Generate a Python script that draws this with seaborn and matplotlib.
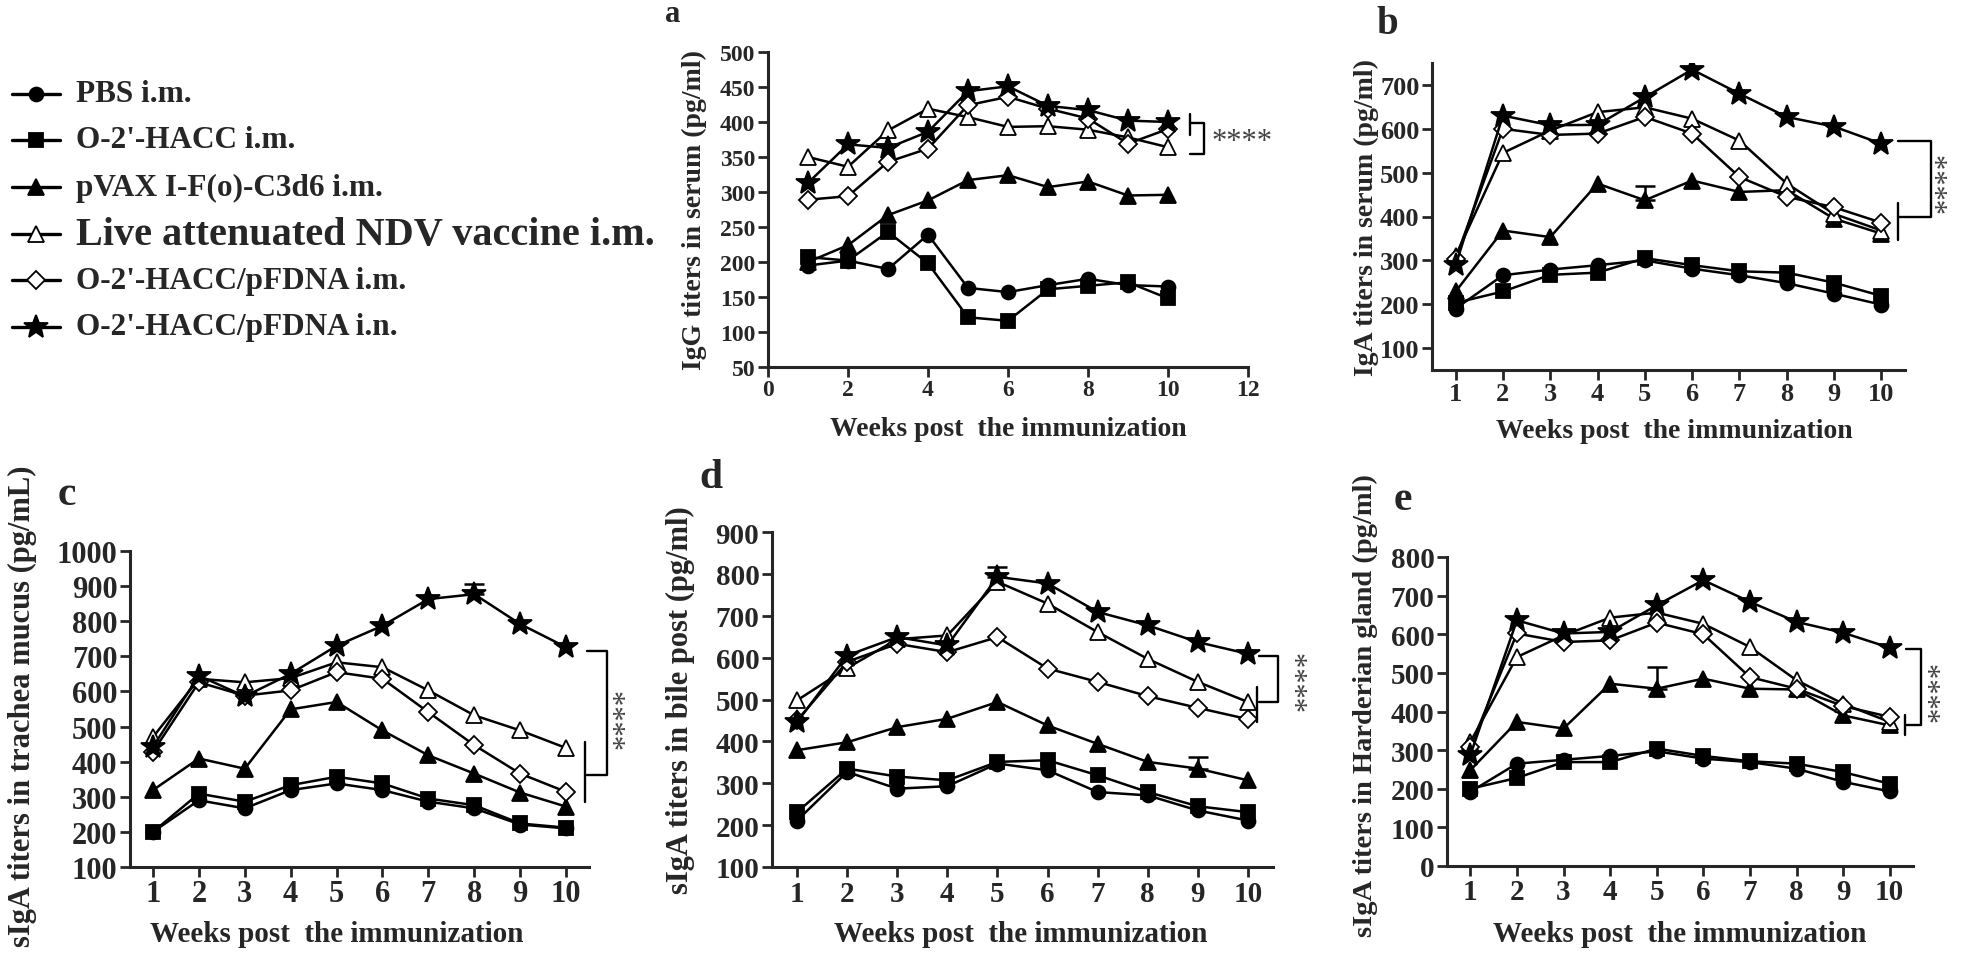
import matplotlib
matplotlib.use("Agg")
import matplotlib.pyplot as plt
from matplotlib.lines import Line2D
import seaborn as sns

W, H = 1961, 962

weeks = [1, 2, 3, 4, 5, 6, 7, 8, 9, 10]
groups = ["PBS i.m.", "O-2'-HACC i.m.", "pVAX I-F(o)-C3d6 i.m.",
          "Live attenuated NDV vaccine i.m.", "O-2'-HACC/pFDNA i.m.",
          "O-2'-HACC/pFDNA i.n."]

# a - IgG titers in serum
igg_serum = [
    [195, 202, 190, 239, 163, 157, 167, 176, 167, 165],
    [207, 202, 243, 198, 121, 116, 161, 166, 171, 148],
    [200, 224, 267, 288, 317, 324, 307, 315, 295, 296],
    [350, 336, 388, 419, 407, 393, 394, 389, 378, 364],
    [289, 294, 343, 362, 424, 436, 419, 405, 369, 390],
    [313, 368, 363, 386, 444, 451, 423, 417, 402, 400],
]
# b - IgA titers in serum
iga_serum = [
    [190, 266, 279, 289, 300, 281, 266, 248, 224, 199],
    [203, 229, 267, 272, 305, 289, 275, 272, 249, 219],
    [229, 368, 353, 475, 437, 482, 456, 460, 395, 361],
    [310, 545, 596, 638, 649, 623, 573, 475, 406, 368],
    [304, 600, 586, 589, 627, 589, 490, 445, 421, 386],
    [289, 630, 608, 609, 672, 735, 680, 627, 605, 566],
]
# c - sIgA in trachea mucus
siga_trachea = [
    [200, 290, 267, 319, 338, 319, 286, 267, 221, 210],
    [200, 309, 286, 333, 357, 338, 295, 276, 224, 212],
    [319, 409, 380, 549, 570, 489, 418, 366, 312, 272],
    [470, 636, 626, 638, 683, 669, 603, 532, 489, 439],
    [428, 626, 588, 603, 655, 636, 541, 447, 366, 314],
    [442, 645, 586, 650, 730, 787, 863, 877, 792, 726],
]
# d - sIgA in bile
siga_bile = [
    [211, 327, 287, 293, 347, 331, 279, 271, 235, 211],
    [231, 335, 316, 307, 351, 355, 319, 279, 245, 231],
    [379, 398, 434, 454, 494, 438, 394, 351, 335, 307],
    [498, 575, 644, 653, 781, 729, 661, 597, 542, 494],
    [450, 590, 633, 613, 649, 574, 542, 508, 480, 453],
    [446, 605, 649, 629, 793, 777, 709, 677, 637, 609],
]
# e - sIgA in Harderian gland
siga_harderian = [
    [192, 265, 275, 285, 297, 278, 269, 252, 218, 193],
    [200, 228, 269, 269, 304, 285, 271, 265, 243, 213],
    [248, 373, 356, 472, 459, 485, 459, 457, 390, 364],
    [321, 541, 597, 643, 656, 627, 567, 481, 420, 373],
    [308, 602, 580, 584, 630, 600, 489, 459, 414, 386],
    [287, 636, 602, 606, 675, 740, 684, 632, 604, 565],
]
# upper error bars: (panel, group, week, top)
err_tops = [("b", 2, 5, 470), ("c", 5, 8, 905), ("d", 5, 5, 816),
            ("d", 2, 9, 362), ("e", 2, 5, 514)]

markers = ["o", "s", "^", "^", "D", "*"]
faces = ["black", "black", "black", "white", "white", "black"]
msizes = [10, 10, 12, 12, 9, 18]

sns.set_style("ticks")
plt.rcParams["font.family"] = ["Liberation Serif", "DejaVu Serif"]
plt.rcParams["font.weight"] = "bold"

fig = plt.figure(figsize=(W / 100, H / 100), dpi=100)


def px_axes(l, t, r, b):
    return fig.add_axes([l / W, 1 - b / H, (r - l) / W, (b - t) / H])


def ftext(x, y, s, **kw):
    fig.text(x / W, 1 - y / H, s, fontweight="bold", **kw)


panels = {
    "a": dict(data=igg_serum, rect=(768, 53, 1248, 368), ylim=(50, 500), yt=range(50, 501, 50),
              xlim=(0, 12), xt=range(0, 13, 2), fs=17, ylabel="IgG titers in serum (pg/ml)",
              ylab=(694, 210), lsize=20, title=(1008, 430), tsize=20, letter=(673, 15, 22)),
    "b": dict(data=iga_serum, rect=(1432, 64, 1905, 371), ylim=(50, 750), yt=range(100, 701, 100),
              xlim=(0.5, 10.5), xt=weeks, fs=19, ylabel="IgA titers in serum (pg/ml)",
              ylab=(1366, 218), lsize=20, title=(1674, 431), tsize=20, letter=(1387, 25, 28)),
    "c": dict(data=siga_trachea, rect=(130, 552, 589, 868), ylim=(100, 1000), yt=range(100, 1001, 100),
              xlim=(0.5, 10.5), xt=weeks, fs=22, ylabel="sIgA titers in trachea mucus (pg/mL)",
              ylab=(22, 706), lsize=22, title=(337, 935), tsize=21, letter=(67, 495, 30)),
    "d": dict(data=siga_bile, rect=(772, 533, 1273, 868), ylim=(100, 900), yt=range(100, 901, 100),
              xlim=(0.5, 10.5), xt=weeks, fs=21, ylabel="sIgA titers in bile post (pg/ml)",
              ylab=(680, 700), lsize=22, title=(1021, 935), tsize=21, letter=(711, 478, 30)),
    "e": dict(data=siga_harderian, rect=(1447, 558, 1913, 867), ylim=(0, 800), yt=range(0, 801, 100),
              xlim=(0.5, 10.5), xt=weeks, fs=21, ylabel="sIgA titers in Harderian gland (pg/ml)",
              ylab=(1365, 706), lsize=20.5, title=(1680, 935), tsize=21, letter=(1403, 500, 30)),
}

# significance brackets: x_tick, x_arm, x_vert, y_top, y_bot, tick_lo, tick_hi, star x, star y, rotation
brackets = {
    "a": (10.55, 10.55, 10.9, 398, 355, 381, 412, 11.85, 372, 0),
    "b": (10.36, 10.36, 11.04, 572, 399, 346, 430, 11.4, 480, 90),
    "c": (10.42, 10.46, 10.9, 714, 363, 286, 456, 11.3, 527, 90),
    "d": (10.18, 10.22, 10.6, 603, 494, 446, 530, 11.2, 548, 90),
    "e": (10.33, 10.36, 10.68, 563, 364, 338, 390, 11.1, 455, 90),
}

for key, p in panels.items():
    ax = px_axes(*p["rect"])
    for i in range(6):
        sns.lineplot(x=weeks, y=p["data"][i], ax=ax, color="black", lw=1.8,
                     marker=markers[i], markersize=msizes[i], markerfacecolor=faces[i],
                     markeredgecolor="black", markeredgewidth=1.3, zorder=3 + i)
    for pk, g, wk, top in err_tops:
        if pk == key:
            y0 = p["data"][g][wk - 1]
            ax.errorbar([wk], [y0], yerr=[[0], [top - y0]], fmt="none", ecolor="black",
                        elinewidth=1.8, capsize=7, capthick=1.8, zorder=2)
    ax.set_xlim(*p["xlim"])
    ax.set_ylim(*p["ylim"])
    ax.set_xticks(list(p["xt"]))
    ax.set_yticks(list(p["yt"]))
    ax.tick_params(labelsize=p["fs"], width=2, length=7, direction="out", pad=2)
    for lab in ax.get_xticklabels() + ax.get_yticklabels():
        lab.set_fontweight("bold")
    ax.set_xlabel("")
    ax.set_ylabel("")
    ax.set_facecolor("none")
    for s in ["top", "right"]:
        ax.spines[s].set_visible(False)
    for s in ["left", "bottom"]:
        ax.spines[s].set_linewidth(2.2)
    ftext(*p["ylab"], p["ylabel"], rotation=90, ha="center", va="center", fontsize=p["lsize"])
    ftext(*p["title"], "Weeks post  the immunization", ha="center", va="center", fontsize=p["tsize"])
    lx, ly, lsz = p["letter"]
    ftext(lx, ly, key, ha="center", va="center", fontsize=lsz)

    xt, xa, xv, yt, yb, tl, th, sx, sy, rot = brackets[key]
    ax.plot([xa, xv, xv, xa], [yt, yt, yb, yb], color="black", lw=1.7, clip_on=False)
    ax.plot([xt, xt], [tl, th], color="black", lw=1.7, clip_on=False)
    ax.text(sx, sy, "****", rotation=rot, ha="center", va="center", fontsize=22,
            color="#444444", fontweight="normal", clip_on=False)

# legend drawn at the upper left
leg_rows = [95, 141, 188, 235, 281, 328]
for i, name in enumerate(groups):
    y = 1 - leg_rows[i] / H
    fig.add_artist(Line2D([12 / W, 60 / W], [y, y], color="black", lw=2.4))
    fig.add_artist(Line2D([36 / W], [y], marker=markers[i], markersize=msizes[i],
                          markerfacecolor=faces[i], markeredgecolor="black",
                          markeredgewidth=1.3, color="black"))
    ftext(76, leg_rows[i], name, ha="left", va="center", fontsize=29 if i == 3 else 22.5)

fig.savefig("out.png", dpi=100)
